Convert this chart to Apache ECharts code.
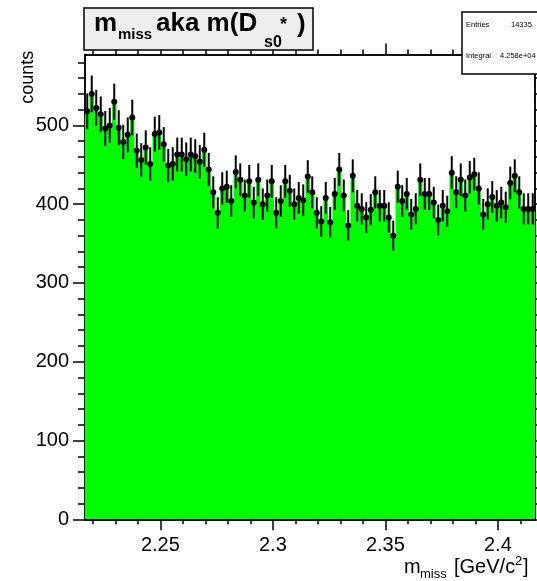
<!DOCTYPE html>
<html>
<head>
<meta charset="utf-8">
<style>
  html, body { margin: 0; padding: 0; background: #fff; }
  #chart { width: 537px; height: 581px; }
</style>
<script src="https://cdn.jsdelivr.net/npm/echarts@6/dist/echarts.min.js"></script>
</head>
<body>
<div id="chart"></div>
<script>
// binning of the m_miss histogram
const xMin = 2.2165
const binWidth = 0.002

// counts per bin
const counts = [
  518, 540, 522, 514, 496, 500, 530, 497, 479, 488,
  510, 468, 456, 472, 451, 489, 491, 476, 449, 451,
  463, 463, 457, 463, 461, 454, 469, 444, 415, 389,
  420, 422, 404, 441, 431, 411, 429, 402, 431, 400,
  411, 429, 389, 404, 429, 417, 400, 408, 405, 435,
  415, 389, 378, 408, 377, 413, 444, 411, 373, 436,
  398, 394, 383, 393, 415, 398, 398, 383, 360, 422,
  404, 413, 387, 394, 431, 413, 413, 402, 380, 398,
  391, 440, 415, 431, 411, 434, 438, 420, 387, 400,
  409, 398, 402, 396, 427, 436, 415, 394, 394, 394
]

const xMajorTicks = [2.25, 2.3, 2.35, 2.4]
const xMinorTicks = [2.22, 2.23, 2.24, 2.26, 2.27, 2.28, 2.29, 2.31, 2.32, 2.33, 2.34,
  2.36, 2.37, 2.38, 2.39, 2.41]
const yMajorTicks = [0, 100, 200, 300, 400, 500]
const yMinorTicks = [20, 40, 60, 80, 120, 140, 160, 180, 220, 240, 260, 280,
  320, 340, 360, 380, 420, 440, 460, 480, 520, 540, 560, 580]
const yMax = 590

const xMax = xMin + counts.length * binWidth
const fontFamily = 'Liberation Sans, Arial, Helvetica, sans-serif'

// step outline for the green fill
const stepData = counts.map((v, i) => [xMin + i * binWidth, v])
stepData.push([xMax, counts[counts.length - 1]])

// points with poisson errors
const errData = counts.map((v, i) => [xMin + (i + 0.5) * binWidth, v, Math.sqrt(v)])

const chart = echarts.init(document.getElementById('chart'))

// baseline -> middle for text placement
const txt = (text, x, base, size, opts = {}) => ({
  type: 'text',
  x: x,
  y: base - 0.3465 * size,
  z: 110,
  rotation: opts.rotation || 0,
  style: {
    text: text,
    fill: '#000',
    font: (opts.bold ? 'bold ' : '') + size + 'px ' + fontFamily,
    align: opts.align || 'left',
    textAlign: opts.align || 'left',
    verticalAlign: 'middle',
    textVerticalAlign: 'middle'
  }
})

const lineCommon = { show: true, onZero: false, lineStyle: { color: '#000', width: 1.5 } }

const xAxisDef = (position, ticks, len, withLabels) => ({
  type: 'value',
  position: position,
  min: xMin,
  max: xMax,
  axisLine: lineCommon,
  splitLine: { show: false },
  axisTick: {
    show: true,
    inside: false,
    length: len,
    customValues: ticks,
    lineStyle: { color: '#000', width: 1.5 }
  },
  axisLabel: withLabels
    ? { show: true, customValues: ticks, margin: 16, color: '#000', fontSize: 20, fontFamily: fontFamily }
    : { show: false }
})

const yAxisDef = (position, ticks, len, withLabels) => ({
  type: 'value',
  position: position,
  min: 0,
  max: yMax,
  axisLine: lineCommon,
  splitLine: { show: false },
  axisTick: {
    show: true,
    inside: false,
    length: len,
    customValues: ticks,
    lineStyle: { color: '#000', width: 1.5 }
  },
  axisLabel: withLabels
    ? { show: true, customValues: ticks, margin: 16, color: '#000', fontSize: 20, fontFamily: fontFamily }
    : { show: false }
})

chart.setOption({
  animation: false,
  backgroundColor: '#fff',
  grid: { left: 85, right: 2, top: 54.5, bottom: 61.7, containLabel: false, outerBoundsMode: 'none' },
  xAxis: [
    xAxisDef('bottom', xMajorTicks, 11, true),
    xAxisDef('bottom', xMinorTicks, 5, false),
    xAxisDef('top', xMajorTicks, 11, false),
    xAxisDef('top', xMinorTicks, 5, false)
  ],
  yAxis: [
    yAxisDef('left', yMajorTicks, 12, true),
    yAxisDef('left', yMinorTicks, 7, false),
    yAxisDef('right', yMajorTicks, 12, false),
    yAxisDef('right', yMinorTicks, 7, false)
  ],
  series: [
    {
      type: 'line',
      xAxisIndex: 0,
      yAxisIndex: 0,
      step: 'end',
      data: stepData,
      showSymbol: false,
      lineStyle: { width: 0, color: '#00ff00' },
      areaStyle: { color: '#00ff00', opacity: 1 },
      silent: true,
      z: 2
    },
    {
      type: 'custom',
      xAxisIndex: 0,
      yAxisIndex: 0,
      data: errData,
      z: 3,
      renderItem: (params, api) => {
        const x = api.value(0)
        const y = api.value(1)
        const e = api.value(2)
        const c = api.coord([x, y])
        const top = api.coord([x, y + e])
        const bot = api.coord([x, y - e])
        const l = api.coord([x - binWidth / 2, y])
        const r = api.coord([x + binWidth / 2, y])
        const st = { stroke: '#000', lineWidth: 2 }
        return {
          type: 'group',
          children: [
            { type: 'line', shape: { x1: c[0], y1: top[1], x2: c[0], y2: bot[1] }, style: st },
            { type: 'line', shape: { x1: l[0], y1: c[1], x2: r[0], y2: c[1] }, style: st },
            { type: 'circle', shape: { cx: c[0], cy: c[1], r: 3 }, style: { fill: '#000' } }
          ]
        }
      }
    }
  ],
  graphic: [
    // title box
    {
      type: 'rect',
      z: 100,
      shape: { x: 84, y: 8, width: 229, height: 42 },
      style: { fill: '#eeeeee', stroke: '#000', lineWidth: 1.5 }
    },
    txt('m', 94, 33, 26, { bold: true }),
    txt('miss', 118, 40, 15, { bold: true }),
    txt('aka m(D', 156, 33, 26, { bold: true }),
    txt('s0', 264, 48.5, 16, { bold: true }),
    txt('*', 280, 31, 18, { bold: true }),
    txt(')', 297, 34, 26, { bold: true }),
    // stats box
    {
      type: 'rect',
      z: 100,
      shape: { x: 462, y: 12, width: 90, height: 62 },
      style: { fill: '#fff', stroke: '#000', lineWidth: 1.5 }
    },
    txt('Entries', 466, 28, 7.5),
    txt('14335', 511, 28, 7.5),
    txt('Integral', 466, 59, 7.5),
    txt('4.258e+04', 500, 59, 7.5),
    // axis titles
    txt('counts', 22 + 0.3465 * 18, 57, 18, { rotation: Math.PI / 2, align: 'right' }),
    txt('m', 404, 574, 20),
    txt('miss', 420, 579, 13),
    txt('[GeV/c', 454, 574, 20),
    txt('2', 515, 566, 13),
    txt(']', 523, 574, 20)
  ]
})
</script>
</body>
</html>
